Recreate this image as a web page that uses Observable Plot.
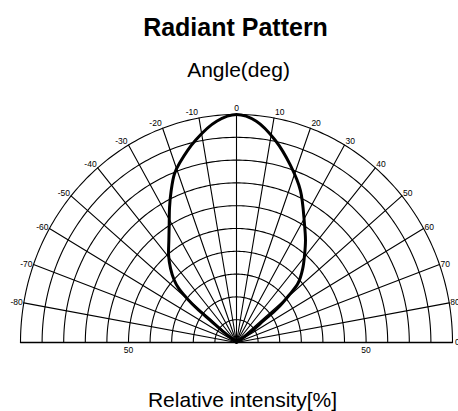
<!DOCTYPE html>
<html>
<head>
<meta charset="utf-8">
<script src="https://cdn.jsdelivr.net/npm/d3@7"></script>
<script src="https://cdn.jsdelivr.net/npm/@observablehq/plot@0.6"></script>
<style>
  html, body { margin: 0; padding: 0; background: #fff; }
  #chart svg { display: block; background: #fff; }
</style>
</head>
<body>
<div id="chart"></div>
<script>
// ---- data ----
const ringValues = [10, 20, 30, 40, 50, 60, 70, 80, 90, 100];
const spokeAngles = [-80, -70, -60, -50, -40, -30, -20, -10, 0, 10, 20, 30, 40, 50, 60, 70, 80];
const angleLabelValues = [-80, -70, -60, -50, -40, -30, -20, -10, 10, 20, 30, 40, 50, 60, 70, 80];
const angleLabelTexts = ["-80", "-70", "-60", "-50", "-40", "-30", "-20", "-10", "10", "20", "30", "40", "50", "60", "70", "80"];
const radiusLabelPos = [-50, 60];
const radiusLabelTexts = ["50", "50"];

// radiant pattern curve (angle in deg, relative intensity in %)
const curveAngle = [-52.5, -52.2, -51.2, -50.9, -49.9, -48.5, -46.5, -43.3, -39.5, -35.0, -31.0, -27.6, -24.4, -21.2, -18.5, -12.0, -5.4, 0, 5.4, 11.5, 17.9, 23.9, 31.1, 35.5, 39.5, 43.5, 47.5, 49.6, 51.8, 52.6, 54.9, 55.0];
const curveIntensity = [0, 7.4, 15.4, 23.5, 29.8, 35.6, 39.8, 44.5, 49.4, 54.6, 60.5, 66.9, 73.2, 79.4, 83.0, 90.8, 97.5, 100, 97.5, 90.4, 81.5, 73.0, 60.9, 55.0, 49.5, 44.5, 38.8, 31.8, 23.9, 15.9, 7.9, 0];

// ---- geometry helpers ----
const rad = d => d * Math.PI / 180;
const px = (a, r) => r * Math.sin(rad(a));
const py = (a, r) => r * Math.cos(rad(a));

const ringPts = [];
for (const r of ringValues) {
  for (let a = -90; a <= 90; a += 1) ringPts.push({x: px(a, r), y: py(a, r), ring: r});
}
const spokePts = [];
for (const a of spokeAngles) {
  spokePts.push({x: 0, y: 0, a});
  spokePts.push({x: px(a, 100), y: py(a, 100), a});
}
const basePts = [{x: px(-90, 100), y: 0}, {x: px(90, 100), y: 0}];
const curvePts = curveAngle.map((a, i) => ({x: px(a, curveIntensity[i]), y: py(a, curveIntensity[i])}));

// label positions (small pixel offsets converted to data units)
const kx = 2.16, ky = 2.28;
const labels = angleLabelValues.map((a, i) => ({
  x: px(a, 100) + Math.sign(a) * 1 / kx,
  y: py(a, 100) + 5.5 * Math.cos(rad(a)) ** 2 / ky,
  text: angleLabelTexts[i],
  side: Math.sign(a)
}));
const topLabel = [{x: 0, y: 100 + 6.5 / ky, text: "0"}];
const endLabel = [{x: 100 + 2.5 / kx, y: 0, text: "0"}];
const radLabels = radiusLabelPos.map((v, i) => ({x: v, y: -8 / ky, text: radiusLabelTexts[i]}));

const font = "'Liberation Sans', Arial, sans-serif";

const chart = Plot.plot({
  width: 458,
  height: 411,
  marginLeft: 20,
  marginRight: 6,
  marginTop: 114,
  marginBottom: 69,
  x: {domain: [-100, 100], axis: null},
  y: {domain: [0, 100], axis: null},
  style: {fontFamily: font, background: "#fff", overflow: "visible"},
  marks: [
    Plot.line(ringPts, {x: "x", y: "y", z: "ring", stroke: "#000", strokeWidth: 1.1}),
    Plot.line(spokePts, {x: "x", y: "y", z: "a", stroke: "#000", strokeWidth: 1.1}),
    Plot.line(basePts, {x: "x", y: "y", stroke: "#000", strokeWidth: 1.3}),
    Plot.line(curvePts, {x: "x", y: "y", curve: "catmull-rom", stroke: "#000", strokeWidth: 3, strokeLinejoin: "round"}),
    Plot.text(labels.filter(d => d.side > 0), {x: "x", y: "y", text: "text", textAnchor: "start", lineAnchor: "middle", fontSize: 8.5, fill: "#000"}),
    Plot.text(labels.filter(d => d.side < 0), {x: "x", y: "y", text: "text", textAnchor: "end", lineAnchor: "middle", fontSize: 8.5, fill: "#000"}),
    Plot.text(topLabel, {x: "x", y: "y", text: "text", textAnchor: "middle", lineAnchor: "middle", fontSize: 8.5, fill: "#000"}),
    Plot.text(endLabel, {x: "x", y: "y", text: "text", textAnchor: "start", lineAnchor: "middle", fontSize: 8.5, fill: "#000"}),
    Plot.text(radLabels, {x: "x", y: "y", text: "text", textAnchor: "middle", lineAnchor: "middle", fontSize: 8.5, fill: "#000"}),
    Plot.text(["Radiant Pattern"], {frameAnchor: "top", dx: -1, dy: -79, lineAnchor: "bottom", fontSize: 25, fontWeight: "bold", fill: "#000"}),
    Plot.text(["Angle(deg)"], {frameAnchor: "top", dx: 2, dy: -38, lineAnchor: "bottom", fontSize: 21, fill: "#000"}),
    Plot.text(["Relative intensity[%]"], {frameAnchor: "bottom", dx: 6, dy: 64, lineAnchor: "bottom", fontSize: 21, fill: "#000"})
  ]
});
document.getElementById("chart").appendChild(chart);
</script>
</body>
</html>
